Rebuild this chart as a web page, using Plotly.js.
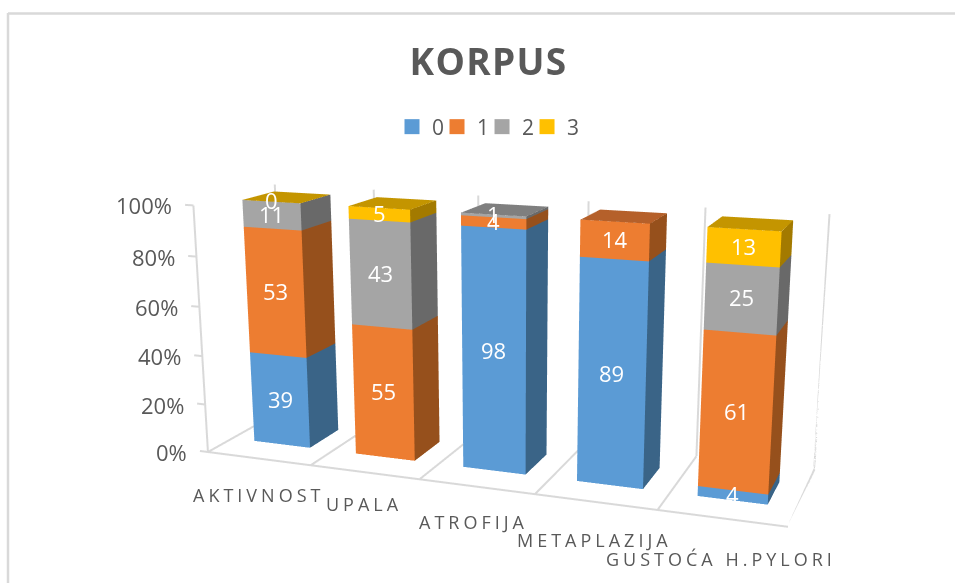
<!DOCTYPE html>
<html>
<head>
<meta charset="utf-8">
<script src="https://cdn.plot.ly/plotly-3.0.1.min.js"></script>
<style>
html,body{margin:0;padding:0;background:#fff;overflow:hidden;width:955px;height:583px}
#chart{position:absolute;left:-63px;top:-218px;width:1146px;height:1146px}
text[data-unformatted="AKTIVNOST"],text[data-unformatted="UPALA"],text[data-unformatted="ATROFIJA"],
text[data-unformatted="METAPLAZIJA"],text[data-unformatted="GUSTOĆA H.PYLORI"]{letter-spacing:4px}
.gtitle{letter-spacing:1.3px}
.legend .scrollbox{clip-path:none !important}
</style>
</head>
<body>
<div id="chart"></div>
<script>
const categories = ['AKTIVNOST','UPALA','ATROFIJA','METAPLAZIJA','GUSTOĆA H.PYLORI'];
const seriesNames = ['0','1','2','3'];
const series0 = [39,null,98,89,4];
const series1 = [53,55,4,14,61];
const series2 = [11,43,1,null,25];
const series3 = [0,5,null,null,13];
const tickValues = [0,20,40,60,80,100];

const frontColors = ['#5B9BD5','#ED7D31','#A5A5A5','#FFC000'];
const sideColors  = ['#3A6487','#96501C','#696969','#A37A00'];
const topColors   = ['#46759F','#B5602A','#7F7F7F','#C49500'];
const gridColor = '#D9D9D9', textColor = '#595959';
const catShiftY = [36,32,35,38,41];
const catShiftX = [0,0,-3,-1,-1];

const W = 1146, H = 1146, offX = 63, offY = 218;
const fx = p => (p + offX) / W, fy = p => 1 - (p + offY) / H;

const allSeries = [series0,series1,series2,series3];
const x0 = .2225, x1 = .7775, y0 = .3, y1 = .7;

function cellMesh(s) {
  const m = {x:[],y:[],z:[],i:[],j:[],k:[],facecolor:[]};
  categories.forEach((c,ci) => {
    const v = allSeries[s][ci];
    if (v === null) return;
    const total = allSeries.reduce((a,t)=>a+(t[ci]||0),0);
    let below = 0;
    for (let q=0;q<s;q++) below += allSeries[q][ci]||0;
    const zb = below/total*100, zt = (below+v)/total*100;
    const l = ci+x0, r = ci+x1;
    let isTop = true;
    for (let q=s+1;q<allSeries.length;q++) if (allSeries[q][ci] !== null) isTop = false;
    const quad = (pts,col) => {
      const n = m.x.length;
      pts.forEach(p => {m.x.push(p[0]);m.y.push(p[1]);m.z.push(p[2]);});
      m.i.push(n,n);m.j.push(n+1,n+2);m.k.push(n+2,n+3);
      m.facecolor.push(col,col);
    };
    quad([[l,y0,zb],[r,y0,zb],[r,y0,zt],[l,y0,zt]],frontColors[s]);
    quad([[r,y0,zb],[r,y1,zb],[r,y1,zt],[r,y0,zt]],sideColors[s]);
    if (isTop) quad([[l,y0,zt],[r,y0,zt],[r,y1,zt],[l,y1,zt]],topColors[s]);
  });
  return m;
}

const traces = [];
// floor, walls and tick marks
const lx=[],ly=[],lz=[];
const seg=(a,b)=>{lx.push(a[0],b[0],null);ly.push(a[1],b[1],null);lz.push(a[2],b[2],null);};
seg([0,0,0],[5,0,0]);
for (let i=0;i<=5;i++) { seg([i,0,0],[i,1,0]); seg([i,1,0],[i,1,100]); }
seg([0,0,0],[0,0,100]);
tickValues.forEach(t=>seg([-.08,0,t],[0,0,t]));
traces.push({type:'scatter3d',mode:'lines',x:lx,y:ly,z:lz,line:{color:gridColor,width:4},showlegend:false,hoverinfo:'skip'});

seriesNames.forEach((n,s)=>{
  const m = cellMesh(s);
  traces.push(Object.assign({type:'mesh3d',name:n,flatshading:true,showscale:false,hoverinfo:'skip',
    lighting:{ambient:1,diffuse:0,specular:0,fresnel:0,roughness:1},lightposition:{x:0,y:0,z:1e5}},m));
});
seriesNames.forEach((n,s)=>{
  traces.push({type:'scatter3d',mode:'markers',name:n,x:[null],y:[null],z:[null],
    marker:{symbol:'square',size:15,color:frontColors[s]},hoverinfo:'skip',showlegend:true});
});

const ann = [];
tickValues.forEach(t=>ann.push({x:0,y:0,z:t,text:t+'%',showarrow:false,xanchor:'right',xshift:-19,
  font:{family:'Open Sans',size:22,color:textColor}}));
categories.forEach((c,ci)=>ann.push({x:ci+.5,y:0,z:0,text:c,showarrow:false,xanchor:'center',
  xshift:catShiftX[ci],yshift:-catShiftY[ci],font:{family:'Open Sans',size:18,color:textColor}}));
categories.forEach((c,ci)=>{
  const total = allSeries.reduce((a,t)=>a+(t[ci]||0),0);
  let below = 0;
  allSeries.forEach(t=>{
    const v=t[ci]; if(v===null) return;
    ann.push({x:ci+.5,y:y0,z:(below+v/2)/total*100,text:String(v),showarrow:false,xanchor:'center',yshift:1.5,
      font:{family:'Open Sans',size:22,color:'#FFFFFF'}});
    below+=v;
  });
});

const layout = {
  width:W,height:H,autosize:false,
  margin:{l:0,r:0,t:0,b:0},
  paper_bgcolor:'#FFFFFF',
  title:{text:'<b>KORPUS</b>',x:fx(488.5),xanchor:'center',y:fy(62),yanchor:'middle',
    font:{family:'Open Sans',size:37,color:textColor}},
  showlegend:true,
  legend:{orientation:'h',x:fx(392),xanchor:'left',y:fy(127),yanchor:'middle',
    font:{family:'Open Sans',size:21,color:textColor},entrywidth:0.01,entrywidthmode:'pixels',bgcolor:'rgba(0,0,0,0)'},
  shapes:[
    {type:'line',xref:'paper',yref:'paper',x0:fx(8),x1:fx(955),y0:fy(13.5),y1:fy(13.5),line:{color:gridColor,width:2.5}},
    {type:'line',xref:'paper',yref:'paper',x0:fx(8),x1:fx(8),y0:fy(13),y1:fy(583),line:{color:gridColor,width:2.5}}
  ],
  scene:{
    domain:{x:[0,1],y:[0,1]},
    aspectmode:'manual',aspectratio:{x:1.02,y:.2698,z:.43},
    xaxis:{visible:false,range:[-.1,5]},
    yaxis:{visible:false,range:[0,1]},
    zaxis:{visible:false,range:[0,100]},
    bgcolor:'rgba(0,0,0,0)',
    camera:{eye:{x:.7855,y:-2.0902,z:.5622},center:{x:.0527,y:-.0937,z:-.0017},up:{x:0,y:0,z:1},
      projection:{type:'perspective'}},
    annotations:ann
  }
};
Plotly.newPlot('chart',traces,layout,{displayModeBar:false,responsive:false});
</script>
</body>
</html>
